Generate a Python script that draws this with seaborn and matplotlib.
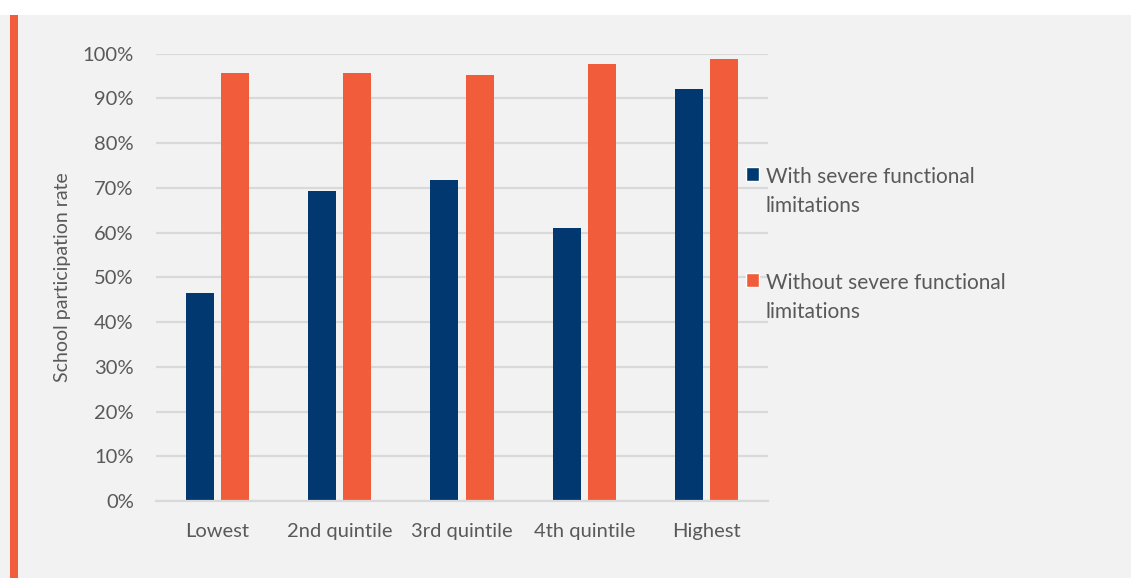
import pandas as pd
import numpy as np
import matplotlib
matplotlib.use("Agg")
import matplotlib.pyplot as plt
import seaborn as sns
from matplotlib.patches import Patch, Rectangle
from matplotlib.ticker import FuncFormatter

# wealth quintiles
quintiles = ["Lowest", "2nd quintile", "3rd quintile", "4th quintile", "Highest"]
groups = ["With severe functional\nlimitations", "Without severe functional\nlimitations"]

# school participation rate (%)
with_limit = [46.4, 69.4, 71.8, 61.1, 92.1]
without_limit = [95.7, 95.7, 95.3, 97.7, 98.8]

NAVY = "#00386f"
ORANGE = "#f15d3b"
GREY_TXT = "#595959"
BG = "#f2f2f2"

df = pd.DataFrame({
    "quintile": quintiles * 2,
    "group": [groups[0]] * 5 + [groups[1]] * 5,
    "rate": np.array(with_limit + without_limit) / 100,
})

sns.set_style("white")
plt.rcParams["font.family"] = ["Lato", "DejaVu Sans"]

fig = plt.figure(figsize=(11.31, 5.78), dpi=100)
fig.patch.set_facecolor("white")
# grey panel + orange accent strip
fig.patches.append(Rectangle((0, 0), 1, 1 - 15 / 578, transform=fig.transFigure,
                             facecolor=BG, edgecolor="none", zorder=-10))
fig.patches.append(Rectangle((10 / 1131, 0), 8 / 1131, 1 - 15 / 578, transform=fig.transFigure,
                             facecolor=ORANGE, edgecolor="none", zorder=-9))

ax = fig.add_axes([156 / 1131, 77 / 578, 612 / 1131, (501 - 53.7) / 578])
ax.set_facecolor(BG)

sns.barplot(data=df, x="quintile", y="rate", hue="group", order=quintiles,
            hue_order=groups, palette=[NAVY, ORANGE], width=0.572, gap=0.2,
            saturation=1, linewidth=0, ax=ax, legend=False)

ax.set_ylim(0, 1.0)
ax.set_xlim(-0.5, 4.5)
ax.set_yticks(np.arange(0, 1.01, 0.1))
ax.yaxis.set_major_formatter(FuncFormatter(lambda v, p: f"{v * 100:.0f}%"))
ax.grid(axis="y", color="#d9d9d9", linewidth=1.6)
ax.set_axisbelow(True)
for s in ["top", "right", "left"]:
    ax.spines[s].set_visible(False)
ax.spines["bottom"].set_color("#d9d9d9")
ax.spines["bottom"].set_linewidth(1.6)
ax.tick_params(axis="y", length=0, pad=16, labelsize=14.5, labelcolor=GREY_TXT)
ax.tick_params(axis="x", length=0, pad=16, labelsize=14.5, labelcolor=GREY_TXT)
ax.set_xlabel("")
ax.set_ylabel("School participation rate", fontsize=14, color=GREY_TXT, labelpad=8)

handles = [Patch(facecolor=NAVY), Patch(facecolor=ORANGE)]
leg = fig.legend(handles, groups, loc="upper left", bbox_to_anchor=(727 / 1131, 1 - 148 / 578),
                 frameon=False, fontsize=15, labelcolor=GREY_TXT, handlelength=0.65,
                 handleheight=0.65, handletextpad=0.3, labelspacing=2.7)
for t in leg.get_texts():
    t.set_linespacing(1.6)
# align squares with the first text line
for col in leg._legend_handle_box.get_children():
    for item in col.get_children():
        item.align = "top"

fig.savefig("out.png", dpi=100, facecolor=fig.get_facecolor())
